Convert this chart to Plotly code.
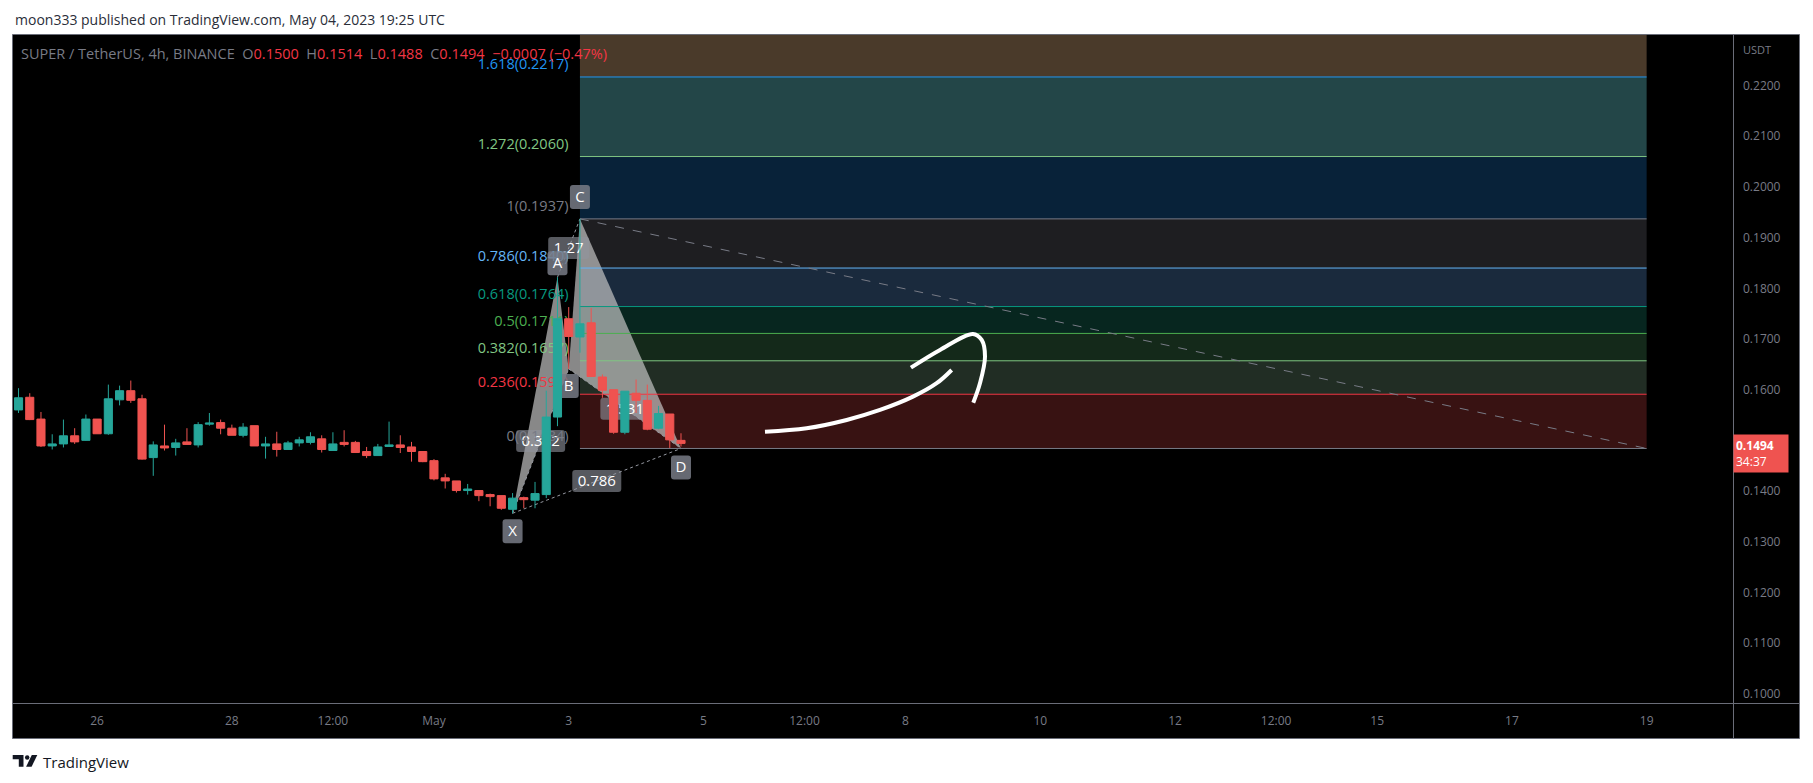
import plotly.graph_objects as go
import pandas as pd

FONT = "Open Sans, Roboto, sans-serif"
UP = "#26a69a"
DOWN = "#ef5350"
RED_TXT = "#f23645"
GRAY_TXT = "#787b86"

# ---------------- data ----------------
times = pd.date_range("2023-04-24 20:00", periods=60, freq="4h")
opens = [0.1560, 0.1585, 0.1542, 0.1489, 0.1493, 0.1509, 0.1500, 0.1542, 0.1513, 0.1580,
         0.1598, 0.1582, 0.1466, 0.1489, 0.1486, 0.1497, 0.1491, 0.1532, 0.1535, 0.1524,
         0.1510, 0.1529, 0.1489, 0.1493, 0.1482, 0.1495, 0.1496, 0.1503, 0.1480, 0.1496,
         0.1496, 0.1478, 0.1470, 0.1488, 0.1491, 0.1487, 0.1478, 0.1460, 0.1426, 0.1420,
         0.1401, 0.1401, 0.1393, 0.1391, 0.1364, 0.1387, 0.1382, 0.1393, 0.1546, 0.1740,
         0.1704, 0.1732, 0.1625, 0.1600, 0.1516, 0.1593, 0.1579, 0.1524, 0.1552, 0.1500]
highs = [0.1603, 0.1593, 0.1556, 0.1512, 0.1541, 0.1524, 0.1551, 0.1542, 0.1610, 0.1608,
         0.1618, 0.1590, 0.1498, 0.1531, 0.1503, 0.1524, 0.1536, 0.1554, 0.1541, 0.1531,
         0.1534, 0.1529, 0.1507, 0.1517, 0.1499, 0.1507, 0.1516, 0.1510, 0.1516, 0.1520,
         0.1499, 0.1487, 0.1493, 0.1537, 0.1510, 0.1497, 0.1478, 0.1463, 0.1434, 0.1420,
         0.1414, 0.1401, 0.1395, 0.1391, 0.1396, 0.1389, 0.1418, 0.1598, 0.1822, 0.1763,
         0.1937, 0.1761, 0.1630, 0.1600, 0.1597, 0.1620, 0.1610, 0.1568, 0.1552, 0.1514]
lows = [0.1554, 0.1540, 0.1487, 0.1482, 0.1486, 0.1493, 0.1499, 0.1513, 0.1511, 0.1569,
        0.1574, 0.1462, 0.1430, 0.1480, 0.1470, 0.1492, 0.1486, 0.1529, 0.1512, 0.1510,
        0.1506, 0.1489, 0.1464, 0.1468, 0.1481, 0.1488, 0.1492, 0.1476, 0.1480, 0.1488,
        0.1475, 0.1465, 0.1470, 0.1487, 0.1475, 0.1458, 0.1457, 0.1421, 0.1405, 0.1397,
        0.1393, 0.1380, 0.1370, 0.1363, 0.1356, 0.1366, 0.1366, 0.1386, 0.1528, 0.1641,
        0.1673, 0.1625, 0.1584, 0.1513, 0.1512, 0.1554, 0.1520, 0.1522, 0.1485, 0.1488]
closes = [0.1584, 0.1541, 0.1489, 0.1493, 0.1509, 0.1497, 0.1542, 0.1513, 0.1582, 0.1598,
          0.1579, 0.1463, 0.1491, 0.1485, 0.1495, 0.1492, 0.1531, 0.1534, 0.1524, 0.1510,
          0.1526, 0.1489, 0.1493, 0.1482, 0.1495, 0.1501, 0.1507, 0.1482, 0.1493, 0.1492,
          0.1476, 0.1470, 0.1487, 0.1491, 0.1486, 0.1478, 0.1458, 0.1424, 0.1420, 0.1401,
          0.1404, 0.1391, 0.1389, 0.1366, 0.1386, 0.1383, 0.1395, 0.1546, 0.1740, 0.1705,
          0.1730, 0.1626, 0.1599, 0.1516, 0.1597, 0.1579, 0.1522, 0.1553, 0.1501, 0.1494]

x_tick_vals = ["2023-04-26", "2023-04-28", "2023-04-29 12:00", "2023-05-01", "2023-05-03",
               "2023-05-05", "2023-05-06 12:00", "2023-05-08", "2023-05-10", "2023-05-12",
               "2023-05-13 12:00", "2023-05-15", "2023-05-17", "2023-05-19"]
x_tick_text = ["26", "28", "12:00", "May", "3", "5", "12:00", "8", "10", "12", "12:00", "15", "17", "19"]
y_tick_vals = [0.10, 0.11, 0.12, 0.13, 0.14, 0.15, 0.16, 0.17, 0.18, 0.19, 0.20, 0.21, 0.22]

fib_levels = ["0", "0.236", "0.382", "0.5", "0.618", "0.786", "1", "1.272", "1.618"]
fib_prices = [0.1484, 0.1591, 0.1657, 0.1711, 0.1764, 0.1840, 0.1937, 0.2060, 0.2217]
fib_top_price = 0.2670
fib_line_colors = ["#787b86", "#f23645", "#81c784", "#4caf50", "#089981", "#64b5f6",
                   "#787b86", "#81c784", "#2196f3"]
fib_zone_colors = ["#381212", "#212d24", "#14291a", "#07261f", "#1a2a3d", "#1e1e21",
                   "#082239", "#234648", "#4a3a2a"]
fib_start = "2023-05-03 04:00"
fib_end = "2023-05-19 00:00"

pattern_names = ["X", "A", "B", "C", "D"]
pattern_times = ["2023-05-02 04:00", "2023-05-02 20:00", "2023-05-03 00:00",
                 "2023-05-03 04:00", "2023-05-04 16:00"]
pattern_prices = [0.1356, 0.1822, 0.1641, 0.1937, 0.1484]
pattern_label_offsets = [-18, 14, -17, 22, -19]
ratio_pairs = [(0, 2), (1, 3), (2, 4), (0, 4)]
ratio_texts = ["0.382", "1.27", "1.531", "0.786"]

arrow_shaft_t = ["2023-05-05 21:55", "2023-05-06 12:46", "2023-05-07 03:01", "2023-05-07 14:53",
                 "2023-05-08 02:38", "2023-05-08 11:05", "2023-05-08 16:25"]
arrow_shaft_p = [0.15172, 0.15239, 0.15403, 0.15600, 0.15862, 0.16127, 0.16389]
arrow_head_t = ["2023-05-08 01:55", "2023-05-08 12:16", "2023-05-09 00:00", "2023-05-09 03:07",
                "2023-05-09 04:18", "2023-05-09 02:30", "2023-05-09 00:07"]
arrow_head_p = [0.16434, 0.16784, 0.17100, 0.16981, 0.16652, 0.16127, 0.15744]

x_range = ["2023-04-24 18:02", "2023-05-20 06:46"]
y_range = [0.09818, 0.22998]

# ---------------- layout helpers (page pixel -> paper) ----------------
BODY = 8                     # default html body margin
FIG_W, FIG_H = 1813 - 2 * BODY, 783 - 2 * BODY
PL, PR, PT, PB = 13, 1733, 35, 703   # plot area in page pixels


def pxx(x):
    return (x - PL) / (PR - PL)


def pxy(y):
    return (PB - y) / (PB - PT)


def pathdate(t):
    return pd.Timestamp(t).strftime("%Y-%m-%d_%H:%M:%S")


def rounded_box(w, h, cy, r=3):
    """rounded rectangle path in pixel units (x centred, y centre at cy, +y up)"""
    x0, x1, y0, y1 = -w / 2, w / 2, cy - h / 2, cy + h / 2
    return (f"M{x0 + r},{y0} L{x1 - r},{y0} Q{x1},{y0} {x1},{y0 + r} L{x1},{y1 - r} "
            f"Q{x1},{y1} {x1 - r},{y1} L{x0 + r},{y1} Q{x0},{y1} {x0},{y1 - r} "
            f"L{x0},{y0 + r} Q{x0},{y0} {x0 + r},{y0} Z")


fig = go.Figure()
fig.add_trace(go.Candlestick(
    x=times, open=opens, high=highs, low=lows, close=closes,
    increasing=dict(line=dict(color=UP, width=1), fillcolor=UP),
    decreasing=dict(line=dict(color=DOWN, width=1), fillcolor=DOWN),
    whiskerwidth=0, showlegend=False, hoverinfo="skip"))

LINE_W = 4
for xs, ys in [(arrow_shaft_t, arrow_shaft_p), (arrow_head_t, arrow_head_p)]:
    fig.add_trace(go.Scatter(x=xs, y=ys, mode="lines",
                             line=dict(color="white", width=LINE_W, shape="spline", smoothing=1.0),
                             showlegend=False, hoverinfo="skip"))

shapes = []
shapes.append(dict(type="rect", xref="paper", yref="paper", x0=pxx(12.5), x1=pxx(1799.5),
                   y0=pxy(738.5), y1=pxy(34.5), fillcolor="black", line=dict(width=0), layer="below"))

# fib zones
for i in range(len(fib_prices)):
    lo = fib_prices[i]
    hi = fib_prices[i + 1] if i + 1 < len(fib_prices) else fib_top_price
    shapes.append(dict(type="rect", xref="x", yref="y", x0=fib_start, x1=fib_end, y0=lo, y1=hi,
                       fillcolor=fib_zone_colors[i], line=dict(width=0), layer="below"))

# XABCD triangles
X, A, B, C, D = [(pathdate(t), p) for t, p in zip(pattern_times, pattern_prices)]
for tri in [(X, A, B), (B, C, D)]:
    path = "M{},{} L{},{} L{},{} Z".format(tri[0][0], tri[0][1], tri[1][0], tri[1][1], tri[2][0], tri[2][1])
    shapes.append(dict(type="path", xref="x", yref="y", path=path,
                       fillcolor="rgba(200,200,200,0.68)", line=dict(width=0), layer="below"))

# dotted ratio lines
for a, b in ratio_pairs:
    shapes.append(dict(type="line", xref="x", yref="y", x0=pattern_times[a], y0=pattern_prices[a],
                       x1=pattern_times[b], y1=pattern_prices[b],
                       line=dict(color="#9598a1", width=1, dash="dot"), layer="below"))

CLEAR = "rgba(0,0,0,0)"
BOX = "rgba(145,148,158,0.6)"


def text_marker(t, p, txt, yanchor="middle", pad=0):
    return dict(type="line", xref="x", yref="y", x0=t, x1=t, y0=p, y1=p,
                line=dict(color=CLEAR, width=1), layer="below",
                label=dict(text=txt, textposition="middle", xanchor="center", yanchor=yanchor,
                           textangle=0, padding=pad, font=dict(color="white", size=15, family=FONT)))


# ratio labels
for (a, b), txt in zip(ratio_pairs, ratio_texts):
    tm = pd.Timestamp(pattern_times[a]) + (pd.Timestamp(pattern_times[b]) - pd.Timestamp(pattern_times[a])) / 2
    pm = (pattern_prices[a] + pattern_prices[b]) / 2
    w = 8 * len(txt) + 9
    shapes.append(dict(type="path", xref="x", yref="y", xsizemode="pixel", xanchor=tm,
                       ysizemode="pixel", yanchor=pm, path=rounded_box(w, 22, 0),
                       fillcolor=BOX, line=dict(width=0), layer="below"))
    shapes.append(text_marker(tm, pm, txt))

label_lead = pd.Timestamp(fib_start) - pd.Timedelta(hours=3)
# fib lines with labels
for lvl, p, c in zip(fib_levels, fib_prices, fib_line_colors):
    shapes.append(dict(type="line", xref="x", yref="y", x0=fib_start, x1=fib_end, y0=p, y1=p,
                       line=dict(color=c, width=1), layer="below"))
    shapes.append(dict(type="line", xref="x", yref="y", x0=label_lead, x1=fib_start, y0=p, y1=p,
                       line=dict(color=CLEAR, width=1), layer="below",
                       label=dict(text=f"{lvl}({p:.4f})", textposition="start", xanchor="right",
                                  yanchor="bottom", textangle=0, padding=3,
                                  font=dict(color=c, size=14.5, family=FONT))))

# dashed fib trend line
shapes.append(dict(type="line", xref="x", yref="y", x0=fib_start, y0=fib_prices[6], x1=fib_end,
                   y1=fib_prices[0], line=dict(color="#787b86", width=1, dash="dash"), layer="below"))

# point labels
for name, t, p, off in zip(pattern_names, pattern_times, pattern_prices, pattern_label_offsets):
    shapes.append(dict(type="path", xref="x", yref="y", xsizemode="pixel", xanchor=t,
                       ysizemode="pixel", yanchor=p, path=rounded_box(20, 24, off),
                       fillcolor="rgba(120,123,134,0.85)", line=dict(width=0), layer="below"))
    if off > 0:
        shapes.append(text_marker(t, p, name, "bottom", off - 10))
    else:
        shapes.append(text_marker(t, p, name, "top", -off - 10))

# frame lines
FR = "#6a6d78"
shapes.append(dict(type="rect", xref="paper", yref="paper", x0=pxx(12.5), x1=pxx(1799.5),
                   y0=pxy(738.5), y1=pxy(34.5), line=dict(color=FR, width=1), layer="above"))
shapes.append(dict(type="line", xref="paper", yref="paper", x0=pxx(1733.5), x1=pxx(1733.5),
                   y0=pxy(738.5), y1=pxy(34.5), line=dict(color=FR, width=1), layer="above"))
shapes.append(dict(type="line", xref="paper", yref="paper", x0=pxx(12.5), x1=pxx(1799.5),
                   y0=pxy(703.5), y1=pxy(703.5), line=dict(color=FR, width=1), layer="above"))

# TradingView logo
LOGO = "#131722"
logo1 = [(12.7, 755), (23.5, 755), (23.5, 766.7), (18.8, 766.7), (18.8, 759.3), (12.7, 759.3)]
logo2 = [(31.8, 755), (37.3, 755), (31.6, 766.7), (26.1, 766.7)]
for pts in [logo1, logo2]:
    path = "M" + " L".join(f"{pxx(a):.5f},{pxy(b):.5f}" for a, b in pts) + " Z"
    shapes.append(dict(type="path", xref="paper", yref="paper", path=path,
                       fillcolor=LOGO, line=dict(width=0), layer="above"))
shapes.append(dict(type="circle", xref="paper", yref="paper", x0=pxx(25.0), x1=pxx(29.4),
                   y0=pxy(759.7), y1=pxy(755.3), fillcolor=LOGO, line=dict(width=0), layer="above"))

annotations = []
annotations.append(dict(xref="paper", yref="paper", x=pxx(13), y=pxy(19.5), xanchor="left",
                        yanchor="middle", showarrow=False,
                        text="moon333 published on TradingView.com, May 04, 2023 19:25 UTC",
                        font=dict(size=14, color="#2a2e39", family=FONT)))
annotations.append(dict(xref="paper", yref="paper", x=pxx(41), y=pxy(762), xanchor="left",
                        yanchor="middle", showarrow=False, text="TradingView",
                        font=dict(size=15, color=LOGO, family=FONT)))

chg = closes[-1] - closes[-2]
pct = chg / closes[-2] * 100
sp = "\u00a0\u00a0"
rs = f'<span style="color:{RED_TXT}">'
sign = "−" if chg < 0 else "+"
legend_txt = (f"SUPER / TetherUS, 4h, BINANCE{sp}O{rs}{opens[-1]:.4f}</span>{sp}H{rs}{highs[-1]:.4f}</span>"
              f"{sp}L{rs}{lows[-1]:.4f}</span>{sp}C{rs}{closes[-1]:.4f}</span>{sp}"
              f"{rs}{sign}{abs(chg):.4f} ({sign}{abs(pct):.2f}%)</span>")
annotations.append(dict(xref="paper", yref="paper", x=pxx(19), y=pxy(53), xanchor="left",
                        yanchor="middle", showarrow=False, text=legend_txt,
                        font=dict(size=14.5, color=GRAY_TXT, family=FONT)))
annotations.append(dict(xref="paper", yref="paper", x=pxx(1741), y=pxy(50), xanchor="left",
                        yanchor="middle", showarrow=False, text="USDT",
                        font=dict(size=11, color=GRAY_TXT, family=FONT)))
annotations.append(dict(xref="paper", yref="y", x=1.0, y=closes[-1], xanchor="left", yanchor="top",
                        yshift=9, showarrow=False, align="left", width=50, borderpad=2,
                        bgcolor="#ef5350",
                        text=f"<b>{closes[-1]:.4f}</b><br>34:37",
                        font=dict(size=12, color="white", family=FONT)))

fig.update_layout(
    width=FIG_W, height=FIG_H,
    margin=dict(l=PL - BODY, r=FIG_W - (PR - BODY), t=PT - BODY, b=FIG_H - (PB - BODY)),
    paper_bgcolor="white", plot_bgcolor="black",
    showlegend=False, boxgap=0.15, boxgroupgap=0.15,
    shapes=shapes, annotations=annotations,
    xaxis=dict(type="date", range=x_range, tickvals=x_tick_vals, ticktext=x_tick_text,
               showgrid=False, zeroline=False, showline=False, ticks="",
               rangeslider=dict(visible=False), ticklabelstandoff=9,
               tickfont=dict(size=12, color=GRAY_TXT, family=FONT)),
    yaxis=dict(side="right", range=y_range, tickvals=y_tick_vals, tickformat=".4f",
               showgrid=False, zeroline=False, showline=False, ticks="", ticklabelstandoff=9,
               tickfont=dict(size=12, color=GRAY_TXT, family=FONT)),
)

fig.write_html("out.html")
